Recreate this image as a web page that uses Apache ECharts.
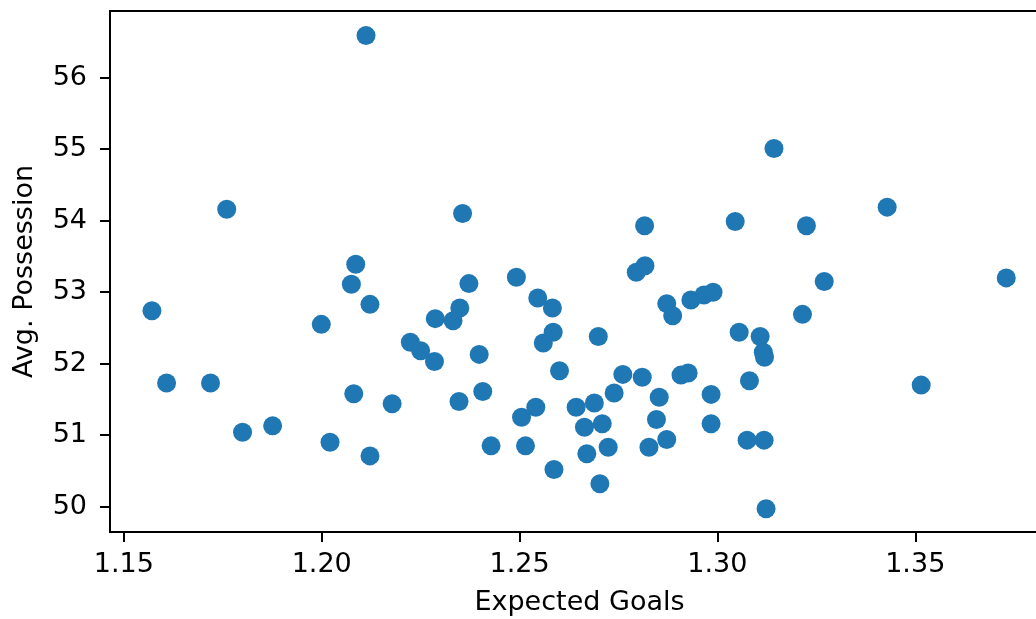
<!DOCTYPE html>
<html>
<head>
<meta charset="utf-8">
<script src="https://cdn.jsdelivr.net/npm/echarts@6/dist/echarts.min.js"></script>
<style>
html,body{margin:0;padding:0;background:#fff;}
#c{width:1036px;height:619px;}
</style>
</head>
<body>
<div id="c"></div>
<script>
var expectedGoals = [
  1.1571, 1.1608, 1.1719, 1.1760, 1.1800, 1.1876, 1.1999, 1.2021, 1.2075, 1.2086,
  1.2081, 1.2112, 1.2122, 1.2122, 1.2178, 1.2224, 1.2250, 1.2287, 1.2285, 1.2332,
  1.2349, 1.2347, 1.2356, 1.2372, 1.2398, 1.2407, 1.2428, 1.2492, 1.2505, 1.2515,
  1.2541, 1.2546, 1.2560, 1.2583, 1.2585, 1.2587, 1.2601, 1.2643, 1.2664, 1.2670,
  1.2689, 1.2699, 1.2703, 1.2709, 1.2724, 1.2739, 1.2761, 1.2795, 1.2810, 1.2817,
  1.2816, 1.2827, 1.2846, 1.2853, 1.2872, 1.2872, 1.2887, 1.2908, 1.2926, 1.2933,
  1.2966, 1.2989, 1.2984, 1.2984, 1.3045, 1.3055, 1.3075, 1.3081, 1.3108, 1.3116,
  1.3119, 1.3118, 1.3123, 1.3143, 1.3215, 1.3225, 1.3270, 1.3429, 1.3515, 1.3730
];
var avgPossession = [
  52.74, 51.73, 51.73, 54.16, 51.04, 51.13, 52.55, 50.90, 53.11, 53.39,
  51.58, 56.59, 52.83, 50.71, 51.44, 52.30, 52.18, 52.63, 52.03, 52.60,
  52.78, 51.47, 54.10, 53.12, 52.13, 51.61, 50.85, 53.21, 51.25, 50.85,
  51.39, 52.92, 52.29, 52.78, 52.44, 50.52, 51.90, 51.39, 51.11, 50.74,
  51.45, 52.38, 50.32, 51.16, 50.83, 51.59, 51.85, 53.28, 51.81, 53.37,
  53.93, 50.83, 51.22, 51.53, 50.94, 52.84, 52.67, 51.84, 51.87, 52.89,
  52.96, 53.00, 51.57, 51.16, 53.99, 52.44, 50.93, 51.76, 52.38, 52.16,
  52.09, 50.93, 49.97, 55.01, 52.69, 53.93, 53.15, 54.19, 51.70, 53.20
];
var xTicks = [1.15, 1.20, 1.25, 1.30, 1.35];
var yTicks = [50, 51, 52, 53, 54, 55, 56];
var xLabel = 'Expected Goals';
var yLabel = 'Avg. Possession';

var points = expectedGoals.map(function (x, i) { return [x, avgPossession[i]]; });

var FONT = 'DejaVu Sans';
var chart = echarts.init(document.getElementById('c'), null, { renderer: 'canvas' });
chart.setOption({
  animation: false,
  backgroundColor: '#ffffff',
  grid: {
    left: 110, top: 11, width: 939, height: 521,
    outerBoundsMode: 'none', containLabel: false,
    show: true, borderColor: '#000', borderWidth: 2, backgroundColor: 'transparent'
  },
  xAxis: {
    type: 'value',
    min: 1.1465, max: 1.3838,
    name: xLabel, nameLocation: 'middle', nameGap: 57,
    nameTextStyle: { fontFamily: FONT, fontSize: 27, color: '#000' },
    axisLine: { show: true, lineStyle: { color: '#000', width: 2 } },
    axisTick: { show: true, inside: false, length: 10, lineStyle: { color: '#000', width: 2 }, customValues: xTicks },
    axisLabel: {
      show: true, margin: 19, fontFamily: FONT, fontSize: 27, color: '#000',
      customValues: xTicks,
      formatter: function (v) { return v.toFixed(2); }
    },
    splitLine: { show: false }
  },
  yAxis: {
    type: 'value',
    min: 49.645, max: 56.934,
    name: yLabel, nameLocation: 'middle', nameGap: 72, nameRotate: 90,
    nameTextStyle: { fontFamily: FONT, fontSize: 27, color: '#000' },
    axisLine: { show: true, lineStyle: { color: '#000', width: 2 } },
    axisTick: { show: true, inside: false, length: 10, lineStyle: { color: '#000', width: 2 }, customValues: yTicks },
    axisLabel: {
      show: true, margin: 23, fontFamily: FONT, fontSize: 27, color: '#000',
      customValues: yTicks,
      formatter: function (v) { return String(Math.round(v)); }
    },
    splitLine: { show: false }
  },
  series: [{
    type: 'scatter',
    data: points,
    symbol: 'circle',
    symbolSize: 19,
    itemStyle: { color: '#1f77b4', opacity: 1 }
  }]
});
</script>
</body>
</html>
